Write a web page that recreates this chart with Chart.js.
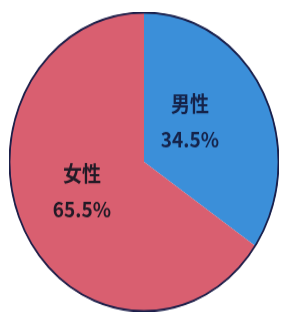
<!DOCTYPE html>
<html>
<head>
<meta charset="utf-8">
<script src="https://cdn.jsdelivr.net/npm/chart.js@4/dist/chart.umd.min.js"></script>
<style>
  html, body { margin: 0; padding: 0; background: #fff; overflow: hidden; }
  body { width: 281px; height: 313px; position: relative; }
  /* the photo is a little taller than wide, so stretch the pie vertically */
  #wrap { position: absolute; left: 9px; top: 12px; width: 270px; height: 270px;
          transform: scaleY(1.11); transform-origin: top left; }
</style>
</head>
<body>
<div id="wrap"><canvas id="pie"></canvas></div>
<script>
// data
const categories = ['男性', '女性'];
const shares = [34.5, 65.5];
const sliceColors = ['#3b8fd9', '#d95f70'];
const textColors = ['#15234a', '#221a26'];

// where each label block sits, as a fraction of the radius from the centre
const labelSpots = [{ dx: 0.34, dy: -0.27 }, { dx: -0.46, dy: 0.2 }];

const sliceLabels = {
    id: 'sliceLabels',
    afterDatasetsDraw(chart) {
        const ctx = chart.ctx;
        const arcs = chart.getDatasetMeta(0).data;
        const first = arcs[0];
        const r = first.outerRadius;

        // dark rim round the whole pie
        ctx.save();
        ctx.beginPath();
        ctx.arc(first.x, first.y, r - 0.5, 0, Math.PI * 2);
        ctx.strokeStyle = '#1b1f4a';
        ctx.lineWidth = 1.8;
        ctx.stroke();

        ctx.textAlign = 'center';
        ctx.textBaseline = 'middle';
        ctx.font = 'bold 19px "Noto Sans CJK SC", "Noto Sans", sans-serif';
        arcs.forEach((arc, i) => {
            const x = arc.x + labelSpots[i].dx * r;
            const y = arc.y + labelSpots[i].dy * r;
            ctx.fillStyle = textColors[i];
            ctx.fillText(categories[i], x, y - 16);
            ctx.fillText(shares[i].toFixed(1) + '%', x, y + 16);
        });
        ctx.restore();
    }
};

new Chart(document.getElementById('pie'), {
    type: 'pie',
    data: {
        labels: categories,
        datasets: [{
            data: shares,
            backgroundColor: sliceColors,
            borderWidth: 0
        }]
    },
    options: {
        responsive: true,
        maintainAspectRatio: false,
        animation: false,
        layout: { padding: 0 },
        plugins: {
            legend: { display: false },
            tooltip: { enabled: false }
        }
    },
    plugins: [sliceLabels]
});
</script>
</body>
</html>
